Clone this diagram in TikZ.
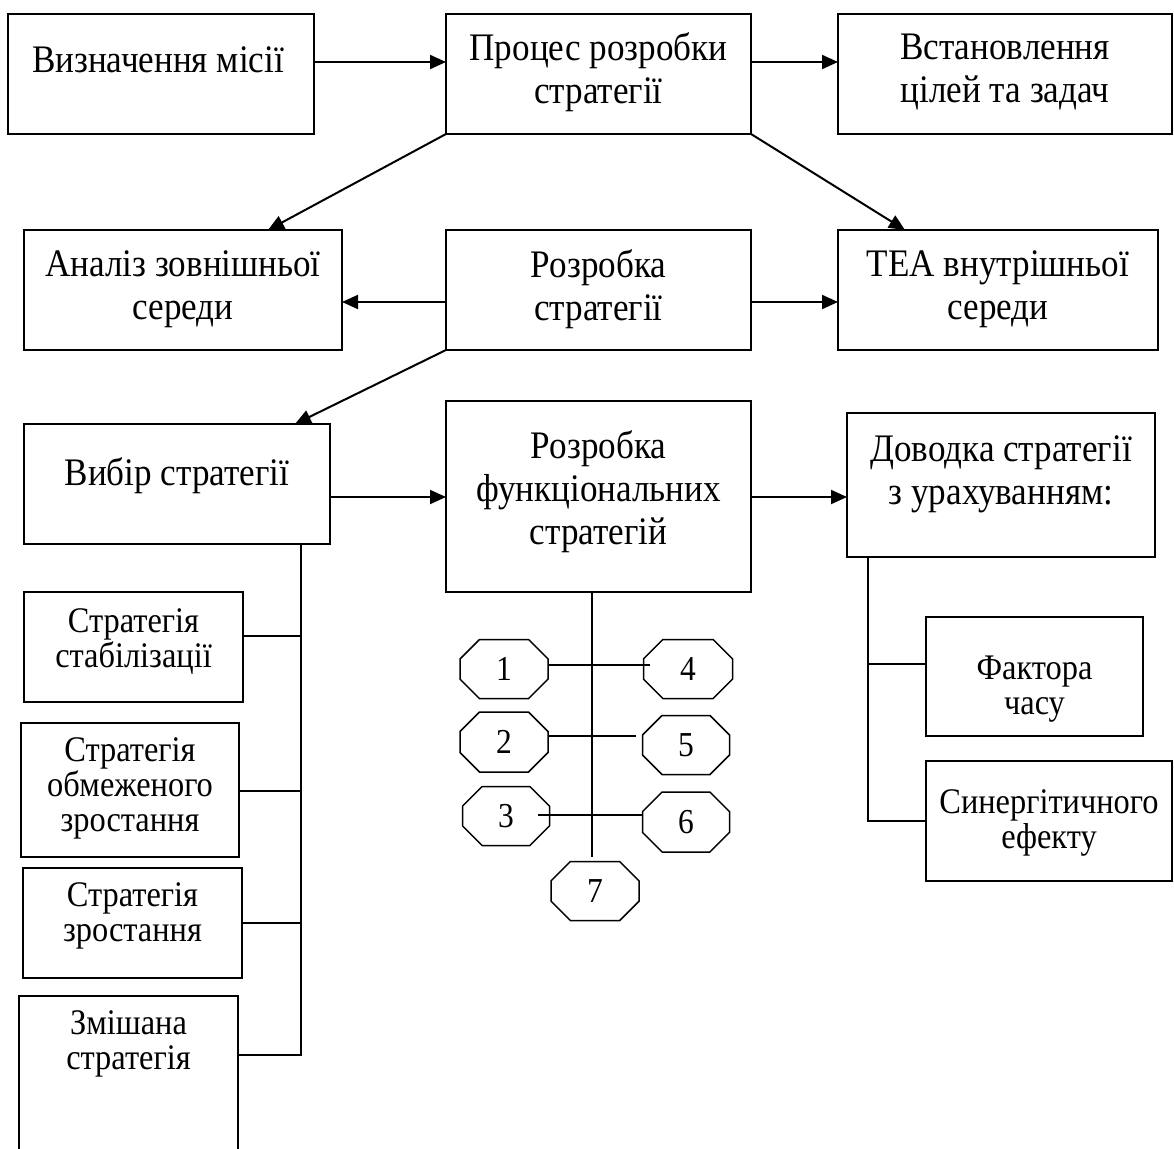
\documentclass[tikz,border=0pt]{standalone}
\usepackage{fontspec}
\setmainfont{Liberation Serif}[FakeStretch=0.9]
\usetikzlibrary{arrows.meta,shapes.misc}
\begin{document}
\begin{tikzpicture}[x=1pt,y=-1pt,
  bx/.style={draw,line width=1.5pt,inner sep=0pt,outer sep=0pt},
  tx/.style={align=center,font=\fontsize{39}{43}\selectfont,inner sep=0pt},
  tsm/.style={align=center,font=\fontsize{36}{35}\selectfont,inner sep=0pt},
  arr/.style={line width=2pt,-{Triangle[length=16pt,width=14pt]}},
  ln/.style={line width=1.8pt},
  oct/.style={draw,line width=1.5pt,chamfered rectangle,chamfered rectangle xsep=16pt,chamfered rectangle ysep=15pt,inner sep=0pt,outer sep=0pt,font=\fontsize{35}{34}\selectfont}]
\clip (0,0) rectangle (1174,1148);
\fill[white] (0,0) rectangle (1174,1148);
% boxes
\node[bx,minimum width=306pt,minimum height=120pt] (b1) at (161,74) {};
\node[bx,minimum width=305pt,minimum height=120pt] (b2) at (598.5,74) {};
\node[bx,minimum width=334pt,minimum height=120pt] (b3) at (1005,74) {};
\node[bx,minimum width=318pt,minimum height=120pt] (b4) at (183,290) {};
\node[bx,minimum width=305pt,minimum height=120pt] (b5) at (598.5,290) {};
\node[bx,minimum width=320pt,minimum height=120pt] (b6) at (998,290) {};
\node[bx,minimum width=306pt,minimum height=120pt] (b7) at (177,484) {};
\node[bx,minimum width=305pt,minimum height=191pt] (b8) at (598.5,496.5) {};
\node[bx,minimum width=308pt,minimum height=144pt] (b9) at (1001,485) {};
\node[bx,minimum width=217pt,minimum height=119pt] (b10) at (1034.5,676.5) {};
\node[bx,minimum width=246pt,minimum height=120pt] (b11) at (1049,821) {};
\node[bx,minimum width=219pt,minimum height=110pt] (s1) at (133.5,647) {};
\node[bx,minimum width=218pt,minimum height=134pt] (s2) at (130,790) {};
\node[bx,minimum width=219pt,minimum height=110pt] (s3) at (132.5,923) {};
\node[bx,minimum width=219pt,minimum height=164pt] (s4) at (128.5,1078) {};
% texts
\node[tx] (t1) at (158,60) {Визначення місії};
\node[tx] (t2) at (598.5,72) {Процес розробки\\стратегії};
\node[tx] (t3) at (1005,72) {Встановлення\\цілей та задач};
\node[tx] (t4) at (183,289) {Аналіз зовнішньої\\середи};
\node[tx] (t5) at (598.5,289) {Розробка\\стратегії};
\node[tx] (t6) at (998,289) {ТЕА внутрішньої\\середи};
\node[tx] (t7) at (177,476) {Вибір стратегії};
\node[tx] (t8) at (598.5,492) {Розробка\\функціональних\\стратегій};
\node[tx] (t9) at (1001,474) {Доводка стратегії\\з урахуванням:};
\node[tsm] (t10) at (1034.5,689) {Фактора\\часу};
\node[tsm] (t11) at (1049,823) {Синергітичного\\ефекту};
\node[tsm] (u1) at (133.5,642) {Стратегія\\стабілізації};
\node[tsm] (u2) at (130,788) {Стратегія\\обмеженого\\зростання};
\node[tsm] (u3) at (132.5,916) {Стратегія\\зростання};
\node[tsm] (u4) at (128.5,1044) {Змішана\\стратегія};
% octagons
\node[oct,minimum width=88pt,minimum height=59pt] (o1) at (504,669) {1};
\node[oct,minimum width=88pt,minimum height=60pt] (o2) at (504,742) {2};
\node[oct,minimum width=87pt,minimum height=59pt] (o3) at (506,816) {3};
\node[oct,minimum width=89pt,minimum height=59pt] (o4) at (688,669) {4};
\node[oct,minimum width=87pt,minimum height=59pt] (o5) at (686,745) {5};
\node[oct,minimum width=87pt,minimum height=60pt] (o6) at (686,822) {6};
\node[oct,minimum width=88pt,minimum height=59pt] (o7) at (595,891) {7};
% arrows
\draw[arr] ([yshift=12pt]b1.east) -- ([yshift=12pt]b2.west);
\draw[arr] ([yshift=12pt]b2.east) -- ([yshift=12pt]b3.west);
\draw[arr] (b2.south west) -- ([xshift=85pt]b4.north);
\draw[arr] (b2.south east) -- ([xshift=-93pt]b6.north);
\draw[arr] ([yshift=-12pt]b5.west) -- ([yshift=-12pt]b4.east);
\draw[arr] ([yshift=-12pt]b5.east) -- ([yshift=-12pt]b6.west);
\draw[arr] (b5.south west) -- ([xshift=118pt]b7.north);
\path ([yshift=-13pt]b7.east) coordinate (p7);
\draw[arr] (p7) -- (p7 -| b8.west);
\path ([yshift=-0.5pt]b8.east) coordinate (p8);
\draw[arr] (p8) -- (p8 -| b9.west);
% left tree
\coordinate (tl) at ([xshift=124pt]b7.south);
\path ([yshift=11pt]s1.east) coordinate (c1);
\path ([yshift=-1pt]s2.east) coordinate (c2);
\path (s3.east) coordinate (c3);
\path ([yshift=23pt]s4.east) coordinate (c4);
\draw[ln] (tl) |- (c4);
\draw[ln] (c1) -- (tl |- c1);
\draw[ln] (c2) -- (tl |- c2);
\draw[ln] (c3) -- (tl |- c3);
% right tree
\coordinate (tr) at ([xshift=-133pt]b9.south);
\path ([yshift=12.5pt]b10.west) coordinate (d1);
\path (b11.west) coordinate (d2);
\draw[ln] (tr) |- (d2);
\draw[ln] (d1) -- (tr |- d1);
% middle tree
\coordinate (tm) at ([xshift=-6.5pt]b8.south);
\path (o7.north) ++(0,-5) coordinate (o7t);
\draw[ln] (tm) -- (tm |- o7t);
\draw[ln] ([yshift=4pt]o1.east) -- ([xshift=6pt,yshift=4pt]o4.west);
\draw[ln] ([yshift=6pt]o2.east) -- ([xshift=-7pt,yshift=9pt]o5.west);
\draw[ln] ([xshift=-12pt,yshift=1pt]o3.east) -- ([yshift=7pt]o6.west);
\end{tikzpicture}
\end{document}
